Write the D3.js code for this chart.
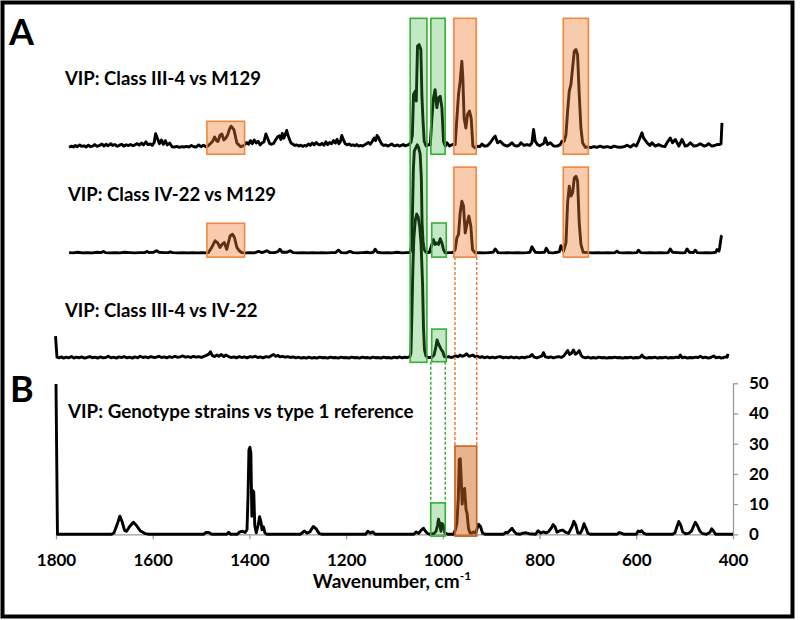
<!DOCTYPE html>
<html>
<head>
<meta charset="utf-8">
<script src="https://cdn.jsdelivr.net/npm/d3@7"></script>
<style>
  body { margin: 0; background: #fff; }
  text { font-family: Lato, "Open Sans", sans-serif; font-weight: bold; fill: #000; }
  .axis text { font-family: Lato, "Open Sans", sans-serif; font-weight: bold; font-size: 17px; }
  .axis path, .axis line { stroke: #9a9a9a; stroke-width: 1.3; }
</style>
</head>
<body>
<div id="chart"></div>
<script>
// VIP spectra, [wavenumber, VIP] pairs

var traceA1 = [
  [1773,0.4],[1768,0.8],[1764,0.5],[1760,1.0],[1756,0.6],[1751,1.2],[1747,0.7],[1742,0.9],[1738,0.5],[1733,1.1],
  [1729,0.6],[1724,0.8],[1720,1.3],[1715,0.7],[1710,1.0],[1705,1.5],[1701,0.8],[1696,1.4],[1692,0.9],[1687,1.6],
  [1683,1.0],[1678,1.3],[1673,0.7],[1669,1.1],[1664,1.4],[1660,0.8],[1655,1.2],[1650,1.0],[1646,1.3],[1641,0.9],
  [1637,1.2],[1632,1.6],[1628,1.1],[1623,1.8],[1619,1.2],[1614,2.2],[1610,1.3],[1605,1.5],[1601,1.0],[1597,2.0],
  [1594,4.9],[1590,3.2],[1586,1.6],[1582,2.8],[1578,1.4],[1574,2.6],[1570,1.2],[1565,1.8],[1560,0.6],[1555,0.5],
  [1550,0.7],[1545,0.4],[1540,0.6],[1535,0.5],[1530,0.7],[1525,0.5],[1520,1.0],[1515,0.6],[1510,0.5],[1505,1.2],
  [1500,0.6],[1495,1.1],[1490,0.6],[1486,0.8],[1481,1.6],[1476,2.4],[1472,3.8],[1468,2.6],[1465,2.3],[1461,4.3],
  [1457,4.8],[1453,2.8],[1449,3.4],[1445,4.5],[1441,6.5],[1438,7.4],[1435,6.8],[1432,6.2],[1429,4.0],[1426,1.8],
  [1422,1.2],[1418,0.6],[1414,0.8],[1410,1.2],[1406,2.0],[1402,1.4],[1398,2.6],[1394,1.6],[1390,2.8],[1386,1.8],
  [1382,2.4],[1378,1.2],[1374,1.8],[1370,2.2],[1366,4.8],[1362,3.2],[1358,1.6],[1354,1.4],[1350,1.7],[1346,2.8],
  [1342,3.8],[1338,4.2],[1335,3.0],[1332,5.0],[1329,3.4],[1326,4.6],[1323,6.0],[1320,4.2],[1317,3.0],[1314,1.8],
  [1310,1.4],[1306,1.0],[1302,1.2],[1298,0.8],[1294,1.1],[1290,0.7],[1286,1.0],[1282,0.8],[1278,1.5],[1274,1.1],
  [1270,1.8],[1266,1.2],[1262,2.0],[1258,1.4],[1254,1.2],[1250,1.7],[1246,1.1],[1242,2.2],[1238,1.3],[1234,2.0],
  [1230,1.6],[1226,2.6],[1222,1.8],[1219,3.0],[1215,1.6],[1212,2.2],[1209,4.3],[1206,3.0],[1202,1.6],[1198,1.2],
  [1194,1.5],[1190,1.0],[1186,1.2],[1182,0.9],[1178,1.3],[1174,0.8],[1170,1.0],[1166,0.8],[1162,1.2],[1158,1.6],
  [1154,2.0],[1150,1.4],[1146,2.4],[1142,3.5],[1139,2.6],[1136,4.3],[1133,3.6],[1130,2.5],[1126,1.4],[1122,1.0],
  [1118,1.2],[1114,0.8],[1110,1.1],[1106,1.5],[1102,1.0],[1098,0.9],[1094,1.2],[1090,0.8],[1086,1.0],[1082,1.3],
  [1078,0.9],[1074,1.1],[1070,1.3],[1066,2.0],[1063,4.5],[1060.7,17.9],[1057,19.0],[1055,15.7],[1052.4,33.9],[1049,34.4],
  [1045.5,32.8],[1043.4,17.9],[1041.3,10.0],[1038.6,2.4],[1034.5,0.8],[1030,1.3],[1026,1.2],[1022.7,10.0],[1019.4,16.8],[1016,19.5],
  [1012.4,13.5],[1009,16.8],[1005.5,17.3],[1002,13.5],[998.7,2.4],[995,0.8],[991.7,1.9],[986,0.8],[980,1.3],[974.5,1.3],
  [971,10.0],[967.6,17.9],[964.2,22.3],[960.7,28.9],[958.7,23.4],[956,10.0],[952.4,6.8],[949,11.3],[944.9,12.4],[941.4,10.0],
  [937.9,0.8],[933,0.2],[929,0.8],[924,0.6],[919,1.5],[914,0.8],[908,0.9],[902,1.9],[895,3.5],[891.7,4.1],
  [887,1.9],[881.4,2.4],[874.6,1.3],[867.5,0.8],[862,1.2],[857.2,1.9],[852,1.0],[846.9,0.8],[842,1.1],[838.6,1.9],
  [832,1.0],[826.2,1.3],[820,1.0],[815.8,1.9],[812.4,6.3],[809,2.4],[804.2,1.3],[800,0.9],[795.1,1.3],[791,1.8],
  [788.3,3.5],[783.5,1.3],[777.9,1.9],[771,0.8],[764.1,0.8],[757.3,1.3],[753.8,2.4],[748.9,2.4],[745.4,4.6],[742,12.4],
  [738.6,19.0],[735.1,21.2],[731.7,26.7],[728.2,32.2],[724.7,32.8],[721.4,31.1],[718,17.9],[714.5,6.8],[711,1.9],[705.5,0.4],
  [700,0.5],[694,0.3],[688,0.6],[682,0.4],[674.5,0.8],[668,0.4],[660,0.6],[652,0.3],[646,0.8],[640,0.5],
  [632,0.4],[625,0.6],[619.3,1.1],[612,0.5],[605.6,1.3],[600,0.8],[595.3,2.4],[588.3,5.2],[585,3.5],[577.8,1.9],
  [572,1.0],[567.5,1.9],[561,0.8],[553.8,1.3],[547,0.8],[541,0.6],[536.5,1.9],[529.7,3.5],[525,1.9],[519.3,3.0],
  [512,0.8],[505.4,3.0],[499,0.8],[494,1.0],[488.3,1.9],[481,0.8],[474,1.0],[467.6,1.6],[460,0.8],[455,1.0],
  [450.4,1.6],[444,0.8],[438,1.0],[433.1,1.3],[428,1.3],[424.8,1.5],[422.8,8.5]
];

var traceA2 = [
  [1773,0.3],[1765,0.2],[1755,0.4],[1745,0.2],[1735,0.3],[1725,0.2],[1715,0.4],[1706,0.3],[1702,0.7],[1698,0.3],
  [1688,0.2],[1678,0.3],[1668,0.2],[1658,0.4],[1647,0.3],[1637,0.2],[1627,0.3],[1616,0.3],[1612,0.7],[1608,0.3],
  [1598,0.4],[1592,0.9],[1587,0.4],[1578,0.3],[1568,0.3],[1564,0.5],[1558,0.3],[1548,0.2],[1538,0.3],[1528,0.2],
  [1518,0.3],[1508,0.2],[1498,0.3],[1490,0.2],[1485,0.3],[1478,2.0],[1471,4.2],[1466,3.6],[1461,2.0],[1456,3.1],
  [1452,3.6],[1447,1.4],[1440,5.8],[1435,6.4],[1431,5.3],[1426,2.0],[1421,0.9],[1416,0.3],[1408,0.2],[1398,0.3],
  [1390,0.2],[1381,0.7],[1374,0.3],[1364,0.9],[1358,0.3],[1348,0.3],[1341,0.6],[1337,1.4],[1332,0.4],[1322,0.4],
  [1316,0.9],[1310,0.3],[1300,0.2],[1290,0.3],[1280,0.2],[1270,0.3],[1260,0.2],[1250,0.3],[1240,0.2],[1230,0.3],
  [1222,0.3],[1216,1.1],[1210,0.3],[1200,0.2],[1192,0.7],[1186,0.3],[1176,0.2],[1166,0.3],[1157,0.4],[1150,0.2],
  [1144,0.4],[1140,1.4],[1135,0.4],[1125,0.2],[1115,0.3],[1105,0.2],[1095,0.4],[1085,0.2],[1075,0.3],[1068,0.3],
  [1065.5,1.9],[1063,12],[1061,28],[1059,34],[1056,35],[1053,36],[1050,35],[1047,33],[1044.5,25],[1043,10],
  [1041,4],[1038.6,1.3],[1034.5,0.4],[1028,0.3],[1022.7,3.0],[1019.4,4.6],[1016,3.0],[1012.4,3.5],[1009,3.0],[1005.5,4.9],
  [1002,3.5],[998.7,1.3],[995,0.2],[986,0.3],[979,0.3],[974.5,1.3],[971,5.2],[967.6,6.3],[964.2,13.5],[960.7,17.3],
  [957.3,15.7],[953.8,6.8],[950.4,9.6],[946.2,12.4],[942.1,9.0],[938.7,1.3],[933,0.2],[925,0.3],[915,0.2],[905,0.3],
  [896,0.4],[891.7,1.5],[886,0.3],[876,0.2],[866,0.3],[856,0.2],[846,0.3],[836,0.2],[826,0.3],[820,0.4],
  [815.8,2.2],[809,0.4],[800,0.3],[790,0.4],[786.2,1.7],[781,0.3],[772,0.2],[764,0.4],[759,0.6],[755.9,2.6],
  [750.4,0.8],[745.4,3.5],[742,16.8],[738.6,22.3],[735.1,19.0],[731.7,20.0],[728.2,25.0],[724.7,25.6],[721.4,24.0],[718,10.2],
  [714.5,3.0],[709.8,0.4],[700,0.3],[690,0.2],[680,0.3],[670,0.2],[660,0.3],[650,0.2],[644,0.3],[640,0.8],
  [636,0.3],[626,0.2],[616,0.3],[606,0.2],[599,0.3],[595.3,1.1],[591,0.3],[581,0.2],[571,0.3],[561,0.2],
  [551,0.3],[541,0.2],[534,0.3],[529.7,1.5],[525,0.4],[515,0.3],[505,0.2],[499,0.3],[495.1,1.5],[490,0.4],
  [482,0.3],[478,1.1],[474,0.3],[464,0.2],[454,0.3],[444,0.2],[436,0.4],[433.1,1.3],[429,0.8],[427.6,1.9],
  [424.2,5.7],[422.8,6.0]
];

var traceA3 = [
  [1801,7.6],[1798,0.6],[1794,0.4],[1789,0.7],[1784,0.3],[1779,0.6],[1774,0.4],[1768,0.8],[1763,0.3],[1758,0.6],
  [1752,0.4],[1747,0.7],[1741,0.3],[1736,0.5],[1730,0.8],[1725,0.4],[1719,0.6],[1714,0.3],[1708,0.7],[1703,0.4],
  [1697,0.5],[1692,0.9],[1686,0.4],[1681,0.6],[1675,0.3],[1670,0.7],[1664,0.5],[1659,0.8],[1653,0.4],[1648,0.6],
  [1642,0.3],[1637,0.7],[1631,0.4],[1626,0.9],[1620,0.5],[1615,0.7],[1609,0.4],[1604,0.8],[1598,0.5],[1593,0.6],
  [1587,0.9],[1582,0.5],[1576,0.7],[1571,0.4],[1565,0.8],[1560,0.5],[1554,0.9],[1549,0.6],[1543,0.7],[1538,1.0],
  [1532,0.6],[1527,0.8],[1521,0.5],[1516,0.9],[1510,0.6],[1505,0.8],[1499,0.5],[1494,0.9],[1489,1.2],[1484,1.6],
  [1480.6,2.4],[1477,1.2],[1472,0.8],[1467,1.3],[1463,0.9],[1458,1.5],[1453,0.8],[1449,1.3],[1443,0.8],[1438,0.5],
  [1432,0.7],[1427,0.4],[1421,0.8],[1416,0.5],[1410,0.7],[1405,0.4],[1399,0.8],[1394,0.6],[1388,0.9],[1383,0.5],
  [1377,0.7],[1372,0.4],[1366,0.8],[1360,0.6],[1355,1.1],[1350,1.5],[1346,0.9],[1341,1.2],[1337,0.7],[1332,0.9],
  [1326,0.6],[1321,0.8],[1315,0.5],[1310,0.7],[1304,0.4],[1299,0.6],[1293,0.3],[1288,0.5],[1282,0.3],[1277,0.6],
  [1271,0.3],[1266,0.5],[1260,0.3],[1255,0.6],[1249,0.4],[1244,0.5],[1238,0.3],[1233,0.6],[1227,0.4],[1222,0.5],
  [1216,0.3],[1211,0.6],[1205,0.4],[1200,0.5],[1194,0.3],[1189,0.6],[1183,0.4],[1178,0.5],[1172,0.3],[1167,0.6],
  [1161,0.4],[1156,0.5],[1150,0.3],[1145,0.6],[1139,0.4],[1134,0.5],[1128,0.3],[1123,0.6],[1117,0.4],[1112,0.5],
  [1106,0.3],[1101,0.6],[1095,0.4],[1090,0.7],[1084,0.4],[1079,0.6],[1073,0.5],[1068,0.8],[1066,2],[1064,15],
  [1062,30],[1060,40],[1057,46],[1054,48],[1051,47],[1048,44],[1045,38],[1042,25],[1040,10],[1038,3],
  [1035,1],[1032,0.6],[1027,0.5],[1022,0.7],[1018.3,1.3],[1015,3.5],[1012,6.3],[1009,5.0],[1006,4.0],[1003,3.0],
  [1000,2.4],[997,0.8],[993,0.6],[988,0.8],[983,0.5],[978,0.7],[973,1.0],[968,0.8],[964.5,1.3],[960,0.9],
  [955,1.2],[951,1.7],[946,0.9],[941,1.1],[937.6,1.3],[933,0.7],[928,0.9],[923,0.5],[919.4,0.8],[914,0.4],
  [908,0.7],[903,0.4],[897,0.6],[892,0.4],[886,0.7],[881,0.8],[875,0.4],[870,0.6],[864,0.4],[859,0.7],
  [853,0.4],[848,0.6],[842,0.3],[837,0.6],[831,0.4],[826,0.7],[820,0.8],[815.8,1.5],[811,0.6],[806,0.4],
  [800,0.7],[795,1.0],[792,2.1],[788,0.7],[782,0.5],[777,0.7],[771,0.4],[766,0.6],[760,0.8],[755,0.5],
  [750,1.0],[746,1.9],[742,2.8],[738,1.5],[734,1.9],[730,3.0],[726,1.6],[722,2.0],[718,2.8],[714,1.2],
  [710,0.6],[705,0.4],[700,0.6],[694,0.3],[689,0.5],[683,0.3],[678,0.6],[672,0.4],[667,0.5],[661,0.3],
  [656,0.5],[650,0.4],[645,0.6],[639,0.4],[634,0.5],[628,0.3],[623,0.5],[617,0.4],[612,0.6],[606,0.3],
  [601,0.5],[595,0.4],[591,0.7],[588.3,1.3],[584,0.5],[578,0.3],[573,0.5],[567,0.4],[562,0.6],[556,0.3],
  [551,0.5],[545,0.4],[540,0.6],[534,0.3],[529,0.5],[523,0.4],[518,0.6],[512,0.5],[509,1.3],[505,0.4],
  [500,0.6],[494,0.3],[489,0.5],[483,0.4],[478,0.6],[472,0.5],[467.6,0.9],[462,0.4],[457,0.6],[451,0.3],
  [446,0.5],[440,1.0],[435,0.4],[429,0.6],[424,0.3],[419,0.5],[415.9,0.7],[412,0.6],[410.3,1.7]
];

var traceB = [
  [1800,49.8],[1797,0],[1685,0],[1680,0.5],[1672,4],[1668,6],[1664,4.5],[1658,1.2],[1654,1],[1648,2.5],
  [1640,4],[1634,3],[1626,1.2],[1615,0.2],[1608,0],[1495,0],[1490,0.6],[1484,0.6],[1478,0],[1447,0],
  [1443,0.7],[1439,0],[1425,0],[1420,0.8],[1414,1],[1409,0.6],[1405,1.5],[1403,12],[1401,28],[1399,28.8],
  [1397,27],[1395,6],[1393,14.5],[1391,14],[1389,3],[1386,0.5],[1382,3],[1379,5.8],[1376,4],[1374,1.5],
  [1371,2.5],[1368,0.5],[1364,0],[1295,0],[1290,0.6],[1286,1.1],[1281,0.4],[1275,0.8],[1268,2.6],[1262,1.8],
  [1256,0.3],[1250,0],[1160,0],[1155,1],[1150,0.4],[1145,0.8],[1140,0],[1060,0],[1055,0.8],[1050,0.3],
  [1044,1.5],[1040,2],[1036,1],[1032,0.3],[1026,0],[1018,0.3],[1014,1],[1011,3],[1009,5],[1006,3],
  [1004,1],[1002,3.6],[999,3],[996,0.5],[990,0],[978,0],[974,1.5],[971,3.6],[968,12],[966,24.8],
  [964,25],[962,18],[960,10],[958,14],[955,15.2],[952,8],[950,7],[947,2],[944,0.5],[940,0.4],
  [936,0.8],[932,0.4],[929,2],[926,3.3],[922,2.5],[918,0.4],[912,0],[875,0],[870,0.6],[866,0.5],
  [860,1.5],[857,2],[853,1],[848,0.2],[840,0],[835,0.4],[828,0.5],[822,0.2],[808,0],[803,1.2],
  [798,0.4],[792,0.8],[787,0.5],[782,0.8],[776,2],[772,3.2],[768,2.5],[764,0.7],[758,1.2],[752,1.4],
  [746,0.6],[740,0.3],[733,2.5],[729,4.3],[725,3],[721,0.5],[716,0.3],[712,1.5],[708,3.5],[704,2],
  [700,0.3],[694,0],[640,0],[635,0.6],[630,0.3],[626,0],[600,0],[596,1.1],[592,0.8],[589,1.2],
  [585,0.4],[580,0],[525,0],[520,0.5],[516,2.5],[512,4.2],[508,3],[504,0.8],[498,0.2],[492,0.3],
  [486,1],[482,2.5],[478,4],[474,3],[469,1.2],[464,0.3],[455,0],[448,0.6],[444,1.8],[440,1],
  [436,0],[400,0]
];

var traceLabels = ["VIP: Class III-4 vs M129", "VIP: Class IV-22 vs M129", "VIP: Class III-4 vs IV-22"];
var refLabel = "VIP: Genotype strains vs type 1 reference";
var xTicks = [1800, 1600, 1400, 1200, 1000, 800, 600, 400];
var yTicks = [0, 10, 20, 30, 40, 50];

// highlight regions: [trace, wave from, wave to, vip low, vip high, kind]
var boxes = [
  [0, 1488, 1410, -1.9, 9.0, "orange"],
  [0, 1067.6, 1033, -70.8, 43.1, "green"],
  [0, 1024.8, 995.2, -1.9, 43.1, "green"],
  [0, 977.2, 931, -1.9, 43.1, "orange"],
  [0, 751, 699, -1.9, 43.1, "orange"],
  [1, 1488, 1410, -1.2, 10.0, "orange"],
  [1, 1023, 993, -1.2, 10.1, "green"],
  [1, 977.2, 931, -1.2, 28.6, "orange"],
  [1, 751, 699, -1.2, 28.6, "orange"],
  [2, 1023, 993, -0.9, 9.9, "green"],
  [3, 1025, 995, -0.6, 10.4, "green"],
  [3, 975, 930, -0.6, 29.2, "orangeDark"]
];

var width = 800, height = 620;
var baselines = [148.5, 253.5, 359];

var svg = d3.select("#chart").append("svg")
    .attr("width", width)
    .attr("height", height);

svg.append("rect").attr("width", width).attr("height", height).attr("fill", "#fff");

// scales
var x = d3.scaleLinear().domain([1800, 400]).range([56, 733]);
var yB = d3.scaleLinear().domain([0, 50]).range([534.3, 383.3]);
var yA = d3.scaleLinear().domain([0, 50]).range([0, -151]);

function yFor(i) {
    if (i === 3) return function(v) { return yB(v); };
    return function(v) { return baselines[i] + yA(v); };
}

// ---- AXES (panel B) ----
var xAxis = d3.axisBottom(x).tickValues(xTicks).tickFormat(d3.format("d"))
    .tickSize(5).tickSizeOuter(0).tickPadding(12);
var yAxis = d3.axisRight(yB).tickValues(yTicks).tickSize(5).tickSizeOuter(0).tickPadding(11);

svg.append("g")
    .attr("class", "axis")
    .attr("transform", "translate(0," + yB(0) + ")")
    .call(xAxis)
    .selectAll("text").attr("dy", "0.85em");

svg.append("g")
    .attr("class", "axis")
    .attr("transform", "translate(" + x(400) + ",0)")
    .call(yAxis);

// ---- TRACES ----
var traces = [traceA1, traceA2, traceA3, traceB];
traces.forEach(function(tr, i) {
    var yy = yFor(i);
    var line = d3.line()
        .x(function(d) { return x(d[0]); })
        .y(function(d) { return yy(d[1]); });
    svg.append("path")
        .datum(tr)
        .attr("fill", "none")
        .attr("stroke", "#000")
        .attr("stroke-width", 2.9)
        .attr("stroke-linejoin", "round")
        .attr("d", line);
});

// ---- HIGHLIGHT BOXES ----
var boxStyle = {
    green: {fill: "#3cae3c", op: 0.3, stroke: "#35b035"},
    orange: {fill: "#ed7d31", op: 0.4, stroke: "#f0873f"},
    orangeDark: {fill: "#d2691e", op: 0.5, stroke: "#c8601a"}
};

boxes.forEach(function(b) {
    var yy = yFor(b[0]);
    var s = boxStyle[b[5]];
    var x0 = x(b[1]), x1 = x(b[2]);
    var yTop = yy(b[4]), yBot = yy(b[3]);
    svg.append("rect")
        .attr("x", x0).attr("y", yTop)
        .attr("width", x1 - x0).attr("height", yBot - yTop)
        .attr("fill", s.fill).attr("fill-opacity", s.op)
        .attr("stroke", s.stroke).attr("stroke-width", 1.6);
});

// dashed links from panel A boxes down to panel B boxes
function link(fromBox, toBox, color) {
    var a = boxes[fromBox], b = boxes[toBox];
    var yTop = yFor(a[0])(a[3]);
    var yBot = yFor(b[0])(b[4]);
    [b[1], b[2]].forEach(function(w) {
        svg.append("line")
            .attr("x1", x(w)).attr("x2", x(w))
            .attr("y1", yTop).attr("y2", yBot)
            .attr("stroke", color).attr("stroke-width", 1.5)
            .attr("stroke-dasharray", "3,2");
    });
}
link(9, 10, "#35b035");
link(7, 11, "#ed7d31");

// ---- TEXT ----
var labelPos = [[65, 85], [68, 200.7], [65, 316.7]];
traceLabels.forEach(function(t, i) {
    svg.append("text")
        .attr("x", labelPos[i][0]).attr("y", labelPos[i][1])
        .attr("font-size", 18.5)
        .text(t);
});
svg.append("text").attr("x", 68).attr("y", 418.3).attr("font-size", 18.8).text(refLabel);

svg.append("text").attr("x", 9).attr("y", 45).attr("font-size", 36).text("A");
svg.append("text").attr("x", 10).attr("y", 401.7).attr("font-size", 36).text("B");

var xt = svg.append("text")
    .attr("x", 392).attr("y", 588.3)
    .attr("text-anchor", "middle")
    .attr("font-size", 19);
xt.append("tspan").text("Wavenumber, cm");
xt.append("tspan").attr("dy", -8).attr("font-size", 12).text("-1");

// outer frame
svg.append("rect")
    .attr("x", 2.5).attr("y", 2.5)
    .attr("width", 790).attr("height", 614)
    .attr("fill", "none")
    .attr("stroke", "#000")
    .attr("stroke-width", 4);
</script>
</body>
</html>
